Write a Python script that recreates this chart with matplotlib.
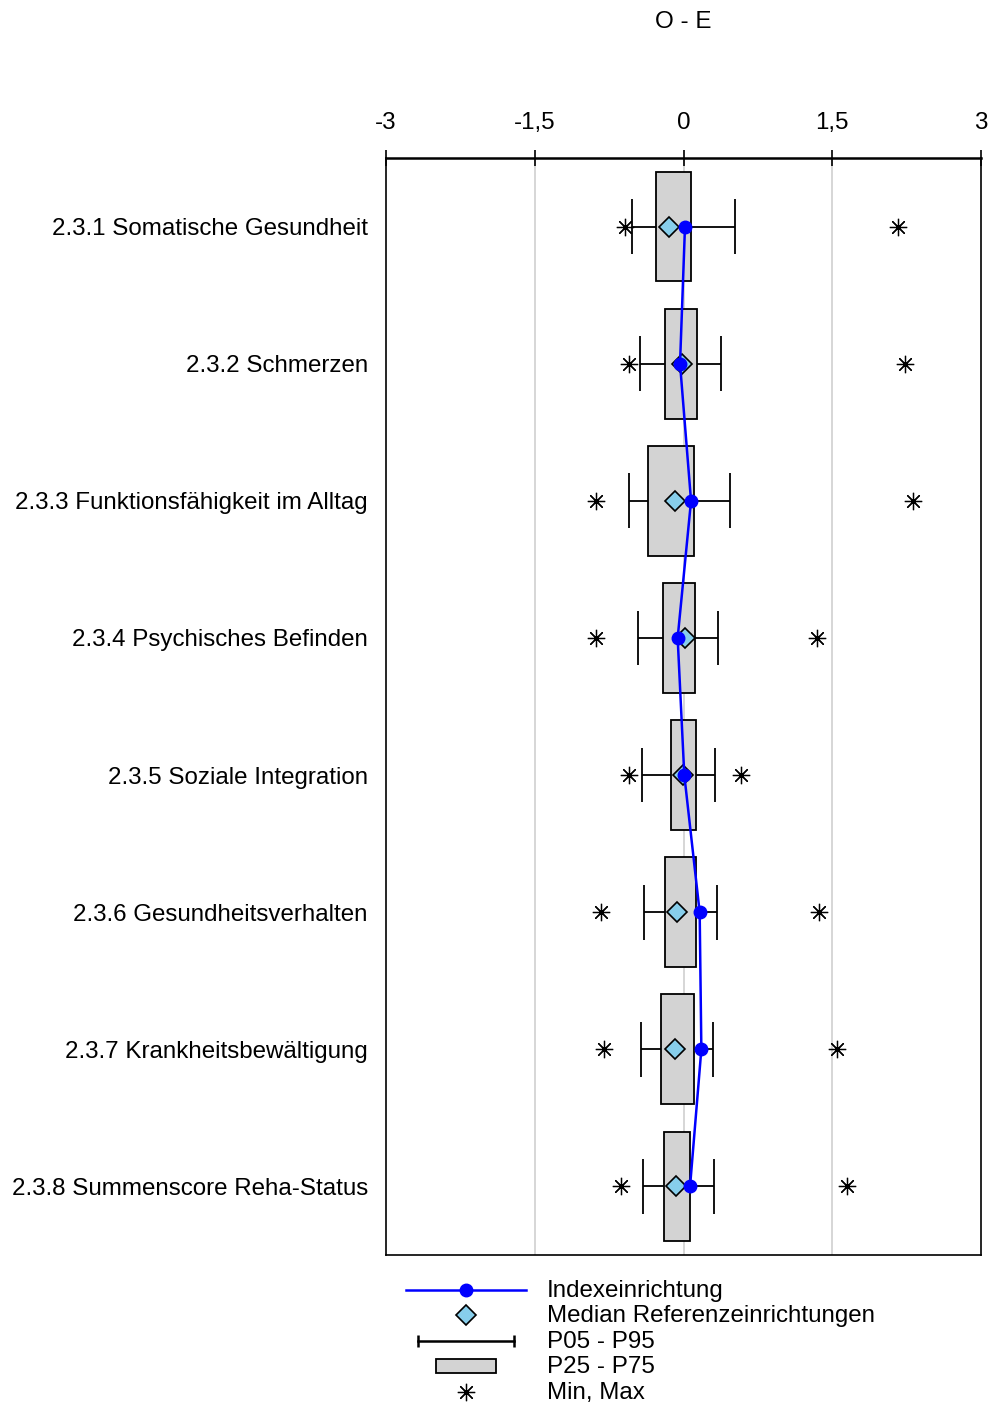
import numpy as np
import matplotlib
matplotlib.use("Agg")
import matplotlib.pyplot as plt
from matplotlib.patches import Rectangle

plt.rcParams["font.family"] = ["Liberation Sans", "DejaVu Sans"]

categories = [
    "2.3.1 Somatische Gesundheit",
    "2.3.2 Schmerzen",
    "2.3.3 Funktionsfähigkeit im Alltag",
    "2.3.4 Psychisches Befinden",
    "2.3.5 Soziale Integration",
    "2.3.6 Gesundheitsverhalten",
    "2.3.7 Krankheitsbewältigung",
    "2.3.8 Summenscore Reha-Status",
]
index_val = [0.015, -0.035, 0.076, -0.059, 0.008, 0.163, 0.18, 0.066]
median_ref = [-0.146, -0.012, -0.083, 0.015, -0.002, -0.066, -0.083, -0.079]
p05 = [-0.52, -0.44, -0.547, -0.459, -0.418, -0.395, -0.432, -0.412]
p95 = [0.517, 0.381, 0.469, 0.351, 0.321, 0.335, 0.297, 0.308]
p25 = [-0.28, -0.19, -0.358, -0.21, -0.129, -0.183, -0.23, -0.197]
p75 = [0.076, 0.133, 0.109, 0.116, 0.123, 0.126, 0.103, 0.069]
v_min = [-0.59, -0.547, -0.882, -0.882, -0.55, -0.832, -0.798, -0.627]
v_max = [2.163, 2.233, 2.314, 1.346, 0.58, 1.366, 1.548, 1.649]

xticks = [-3, -1.5, 0, 1.5, 3]
xticklabels = ["-3", "-1,5", "0", "1,5", "3"]
legend_labels = ["Indexeinrichtung", "Median Referenzeinrichtungen",
                 "P05 - P95", "P25 - P75", "Min, Max"]

FS = 17.4
W, H = 993, 1402
fig = plt.figure(figsize=(W / 100, H / 100), dpi=100)
ax = fig.add_axes([386 / W, 1 - 1255 / H, (981 - 386) / W, (1255 - 158) / H])

y = np.arange(len(categories))
box_h = 0.8
cap_h = 0.4

#grid
for xv in [-1.5, 0, 1.5]:
    ax.axvline(xv, color="#d3d3d3", lw=1.3, zorder=0)

#whiskers P05-P95
ax.hlines(y, p05, p95, color="black", lw=1.3, zorder=2)
ax.vlines(p05, y - cap_h / 2, y + cap_h / 2, color="black", lw=1.3, zorder=2)
ax.vlines(p95, y - cap_h / 2, y + cap_h / 2, color="black", lw=1.3, zorder=2)

#boxes P25-P75
for yi, a, b in zip(y, p25, p75):
    ax.add_patch(Rectangle((a, yi - box_h / 2), b - a, box_h, facecolor="#d3d3d3",
                           edgecolor="black", lw=1.3, zorder=3))

#median reference
ax.plot(median_ref, y, linestyle="none", marker="D", ms=10, mfc="#87ceeb",
        mec="black", mew=1.2, zorder=4)

#index line
ax.plot(index_val, y, color="#0000ff", lw=1.8, marker="o", ms=9, mfc="#0000ff",
        mec="#0000ff", zorder=5)

#min max
ax.plot(v_min, y, linestyle="none", marker=(8, 2, 0), ms=12.5, mec="black", mew=0.9, zorder=6)
ax.plot(v_max, y, linestyle="none", marker=(8, 2, 0), ms=12.5, mec="black", mew=0.9, zorder=6)

ax.set_xlim(-3, 3)
ax.set_ylim(len(categories) - 0.5, -0.5)
ax.xaxis.tick_top()
ax.set_xticks(xticks)
ax.set_xticklabels(xticklabels, fontsize=FS)
ax.tick_params(axis="x", direction="inout", length=11, width=1.2, pad=12)
ax.set_yticks(y)
ax.set_yticklabels(categories, fontsize=FS)
ax.tick_params(axis="y", length=0, pad=13)
for s in ax.spines.values():
    s.set_linewidth(1.2)
ax.spines["top"].set_linewidth(1.8)

fig.text(683 / W, 1 - 22 / H, "O - E", ha="center", va="center", fontsize=FS)

#legend
lg = fig.add_axes([0, 0, 1, 1])
lg.set_xlim(0, W)
lg.set_ylim(H, 0)
lg.axis("off")
rows = [1290, 1315, 1341, 1366, 1392]
lg.plot([406, 526], [rows[0], rows[0]], color="#0000ff", lw=1.8)
lg.plot([466], [rows[0]], marker="o", ms=9, color="#0000ff")
lg.plot([466], [rows[1]], marker="D", ms=10, mfc="#87ceeb", mec="black", mew=1.2)
lg.plot([418, 514], [rows[2], rows[2]], color="black", lw=1.8)
lg.vlines([418, 514], rows[2] - 6, rows[2] + 6, color="black", lw=1.8)
lg.add_patch(Rectangle((436, rows[3] - 7), 60, 14, facecolor="#d3d3d3",
                       edgecolor="black", lw=1.3))
lg.plot([466], [rows[4]], marker=(8, 2, 0), ms=12.5, mec="black", mew=0.9)
for r, t in zip(rows, legend_labels):
    lg.text(547, r + 1, t, fontsize=FS, va="center", ha="left")

fig.savefig("out.png", dpi=100)
